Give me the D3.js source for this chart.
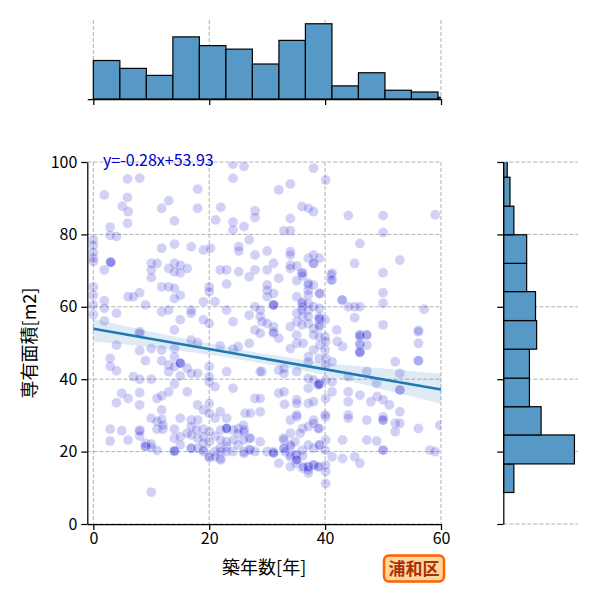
<!DOCTYPE html>
<html><head><meta charset="utf-8">
<script src="https://cdn.jsdelivr.net/npm/d3@7"></script>
<style>
body{margin:0;background:#fff}
text{font-family:"Noto Sans CJK JP","Noto Sans",sans-serif}
</style>
</head><body>
<svg id="c" width="600" height="600"></svg>
<script>
// ---------- data ----------
const xTicks = [0, 20, 40, 60];
const yTicks = [0, 20, 40, 60, 80, 100];
const xLabel = "築年数[年]";
const yLabel = "専有面積[m2]";
const wardLabel = "浦和区";
const regSlope = -0.28;
const regIntercept = 53.93;
const regText = "y=-0.28x+53.93";
// confidence band (offsets from the fitted line, in m2)
const ciX  = [0, 10, 20, 30, 40, 50, 60];
const ciUp = [2.7, 2.0, 1.5, 1.4, 1.8, 3.0, 4.4];
const ciLo = [3.5, 2.3, 1.6, 1.4, 1.6, 2.8, 3.9];
// marginal histograms
const topEdges  = [0, 4.58, 9.15, 13.73, 18.3, 22.88, 27.45, 32.03, 36.6, 41.18, 45.75, 50.33, 54.9, 59.48, 64.06];
const topCounts = [44, 35, 27, 71, 61, 57, 40, 67, 86, 15, 30, 10, 8, 2];
const rightEdges  = [8.7, 16.6, 24.6, 32.4, 40.3, 48.3, 56.2, 64.2, 72.0, 79.9, 87.8, 95.8, 103.7];
const rightCounts = [19, 128, 68, 47, 47, 60, 58, 42, 42, 19, 12, 7];
// scatter: building age [years], floor area [m2]
const ages = [
 5.9,8.0,1.9,5.9,5.0,6.0,5.9,2.9,2.9,4,
 0,0,0,0,0,0,0,0,0,
 3.0,3.0,3.0,1.9,
 11.8,13,18,18,14,
 21.1,22,24.1,26,24.1,24.1,24.1,26,27.9,27.9,
 11.8,14,16.9,19,20.2,25.1,25.1,26.9,27.9,
 10,11,13,14,15,15,16.2,14,10,10,
 21.9,23,25.1,26.9,27.9,23,
 20,20,
 11.8,13,14,15,14,6,8,6.9,
 1.9,1.9,
 19,16.9,16.9,15,11.8,13,9,4,1.9,8,
 21,23,24.1,26.9,27.9,27.9,
 20,19,14,
 // upper right
 38,34,32,40.1,36,37.1,38,34,44,50,59,32.9,34,50,46,
 30,34,34,31.1,37.1,38,38,38,39,34,34,35.1,36.1,36.1,45.1,52.9,
 30,32,35.1,41,41,50,
 30,30,30,31.1,35.1,36.1,36.1,37.1,37.1,38,37.1,37.1,39,37.1,38,
 31.1,31.1,31.1,
 43,44,45.1,46,45.1,50,50,50,57.1,56.1,
 28.8,28.8,29.1,30,31.1,31.1,34,35.1,35.1,36.1,37.1,37.1,38,39,39,39,40,42,46,47.2,
 36,37.1,39.1,36,36,39,39,39,36,39.1,38,42.9,46,46,46,46,43,41.2,41.2,40,
 // lower left
 8,10,11.8,14,16.9,18,8,4,2.9,2.9,4,9,11.8,13,13,14,14,15,15,15,15,16.2,16.9,18,20,21.9,23,24.1,25,26.9,
 6.9,8,10,14,16.2,20,21,24.1,27.9,
 8,8,4.9,4,6,11,11.8,11.8,13,10,11,11.8,
 18,19,20,21.9,15,16.9,18,
 2.9,4.9,8,8,11,12,14,14,15,16.2,16.9,16.9,18,19,19,20,21,23,24.1,25,26,26.9,
 2.9,6,9,9,9,10,11,14,15,16.9,16.9,18,19,19,20,21,21.9,21.9,23,24.1,25,26,26.9,27.9,
 10,
 8,12,17.8,14,14,10,
 20,29.1,20,21,23,22,23,23,25,26.2,27.1,25.9,26,25.9,27.1,24.2,23,22,20,19,22,23,26,27.1,22,20,21,
 // lower right
 28.8,31.1,35.1,38,39,40.1,42.1,46,47.2,46,46,47.2,56.1,56.1,
 32,34,35.1,36.2,37.1,37.1,39,40.1,40.1,41.2,44,47.2,48.9,52.1,52.9,52.9,52.9,56.1,56.1,
 28.8,32,32.9,32.9,35.1,37.1,38,39,39,39,40.1,41.2,44,44,46,47.9,49,50,51.1,52.1,52.9,52.9,56.1,59.8,
 28.8,28.8,32,32.9,35.1,35.1,37.1,38,40.1,41.2,44,44,47.2,50,50,50,
 34,35.1,36.1,37.1,38,39,40.1,28.8,31.1,32.9,34,
 32.9,32.9,34,34,35,35,36.1,36.1,37.1,38,39,39,40.1,35,36.1,37.1,37.1,38,38,39,40.1,40.1,40.1,37.1,32,30,31.1,31.1,34,
 41.2,43,45.1,46,43,47.2,48.9,50,50,58.1,59,52.1,
 32.8,34,34.8,35.7,38,38.8,33.1,34,35.1,35.1,36.3,37.1,38.8,33,35.1,37.1,38.8,
 40,40,40
];
const areas = [
 95.3,95.5,90.9,90.2,87.8,86.3,83.1,82,79.7,79.4,
 78.5,77,75,73.5,72.5,65.5,63.2,60.5,57.9,
 72.3,72.3,72.3,70.2,
 87.2,89.3,92.5,87.2,83.7,
 84,87.5,99.4,98.8,95.5,83.4,81.2,82.2,86.5,84.7,
 76.2,77.3,76.6,75.7,76.2,76.6,75.4,78.5,74.3,
 72,72,70.6,72,71.5,69.4,70.6,69.7,70.2,68.1,
 70.2,70.2,69.7,68.3,70.2,66.3,
 65.5,64.2,
 65.5,65.5,65.1,63.2,62.3,62.8,63.9,62.8,
 61.7,59.6,
 61.4,59.1,58.2,56.4,58.6,59.1,60.5,58.2,56.1,53.1,
 61.4,59.1,55.9,57.7,60,53.6,
 55.4,56.4,53.6,
 // upper right
 98.3,93.9,92.3,95,87.7,87.2,86.3,84.4,85.2,85.2,85.4,81,81,80.5,77.5,
 75.4,75.2,74.3,72,73.4,74.3,72,72,73.4,71.5,70.6,71.3,69.4,68.5,72,72.9,
 70.2,67.9,67.2,68.8,67.4,69.4,
 66,64.6,62.8,63.7,62.8,61.4,60,66,64.6,66,63.3,61,63.7,59.1,60,
 60.5,60.5,60.5,
 61.9,60,60,60,57,63.9,61,55,59.3,53.5,
 59.1,57.3,55.9,55.4,54.5,53.1,54.5,58.2,55.9,57.3,57.3,55.4,54,57.3,56.4,55,51.7,53.6,52.2,52.2,
 69.3,66.5,63.7,61,59.1,59.6,56.8,54.5,55,49.4,48.1,61.9,51.7,49.9,47.6,47.6,49,69.3,67.4,56.4,
 // lower left
 52.7,48.5,48.1,48.5,50.8,50.1,47.9,49.4,45.8,43.6,42.3,45.1,45.1,43.9,42.1,46.2,43.5,44.4,44.4,44.4,40.9,43,41.6,41.6,43.5,49.2,42.1,48.3,49,49.9,
 40.7,40,40,38.7,36.5,39.3,37.9,37.5,34.7,
 36.3,32.9,36.1,33.5,34.7,34.7,35.4,31.5,36.5,29.2,28.3,28.9,
 32.9,31.5,33.3,31,29.2,28.7,28.7,
 26.2,25.8,26,24.3,26.2,26.2,26.2,23.7,24.1,25.1,26.9,24.6,23.7,26.2,24.1,25.5,24.3,26.4,26,26.4,26,23.7,
 22.9,23.2,22.3,21.4,21.4,22.1,20.3,20,21.8,20.9,20.9,20.9,22.3,20,18.6,20,20.9,18.1,21.4,20,21.8,20,20.6,20,
 8.8,
 25.6,27.3,26,20.2,20.2,21.2,
 40.7,42.1,30.6,29.2,29.2,26,26.4,26.4,25.1,30.6,30.6,27.3,25.5,23.2,23.7,23.2,22.7,23.2,22.7,20.4,20,20,19.5,20.4,17.7,18.4,18.6,
 // lower right
 52.7,52.7,52.2,52.2,51.7,50.4,50.4,52.2,52.2,49.4,47.3,49.4,53.1,49.9,
 51.3,48.5,49.9,49.9,46.2,44.8,45.8,45.8,43.9,44.8,40.7,42.1,38.9,44.8,41.6,37,37,45.1,45.1,
 42.1,42.5,43,41.6,42.1,40.2,39.8,38.7,38.7,38.7,39.8,39.3,36.5,33.8,35.6,33.8,35.2,34.3,32.9,27.8,31,27.8,26.4,27.3,
 34.7,31,36.1,36.5,34.3,33.3,33.3,33.8,34.7,36.5,30.1,29.2,28.7,29.6,28.7,28.7,
 28.7,29.6,26.4,26.9,28.7,26.4,29.6,22.7,20,23.2,21.4,
 20.9,20.9,21.8,19.1,19.1,19.1,20.4,18.8,21.8,20.9,21.8,21.8,23.2,16.8,15.4,15.8,15.8,16.3,16.3,15.8,16.3,14.5,11.2,14.1,16.8,20,19.6,19.6,15.8,
 18.6,18.1,18.6,16.8,23.2,23.2,22.9,20.4,20.4,20.4,20,25.5,
 23.7,25.1,22.7,25.1,27.8,26.4,20,18.6,17.7,17.7,15.8,14.9,15.8,33.1,30.1,37.5,38.4,
 48.1,30.1,20.4
];

// ---------- drawing ----------
const svg = d3.select("#c");
const L = 87.3, R = 441, T = 162, B = 524;
const x = d3.scaleLinear().domain([-1.04, 60]).range([L, R]);
const y = d3.scaleLinear().domain([0, 100]).range([B, T]);

const gridCol = "#b0b0b0";
const dash = "4,2";
const barFill = "#5799c6";

const defs = svg.append("defs");
defs.append("clipPath").attr("id","clipMain").append("rect").attr("x",L).attr("y",T).attr("width",R-L).attr("height",B-T);
defs.append("clipPath").attr("id","clipTop").append("rect").attr("x",L).attr("y",10).attr("width",R-L).attr("height",90);
defs.append("clipPath").attr("id","clipRight").append("rect").attr("x",503).attr("y",T).attr("width",90).attr("height",B-T);

// ---- main grid
const gMain = svg.append("g");
gMain.selectAll(".gx").data(xTicks).enter().append("line")
  .attr("x1", d=>x(d)).attr("x2", d=>x(d)).attr("y1", T).attr("y2", B)
  .attr("stroke", gridCol).attr("stroke-width", 1).attr("stroke-dasharray", dash);
gMain.selectAll(".gy").data(yTicks).enter().append("line")
  .attr("x1", L).attr("x2", R).attr("y1", d=>y(d)).attr("y2", d=>y(d))
  .attr("stroke", gridCol).attr("stroke-width", 1).attr("stroke-dasharray", dash);

// ---- scatter
const pts = ages.map((a,i)=>({a, m: areas[i]}));
gMain.append("g").attr("clip-path","url(#clipMain)")
  .selectAll("circle").data(pts).enter().append("circle")
  .attr("cx", d=>x(d.a)).attr("cy", d=>y(d.m)).attr("r", 5)
  .attr("fill", "rgb(0,0,205)").attr("fill-opacity", 0.18)
  .attr("stroke", "#ffffff").attr("stroke-opacity", 0.35).attr("stroke-width", 0.8);

// ---- regression band + line
const band = ciX.map((cx,i)=>({cx, lo: regIntercept + regSlope*cx - ciLo[i], hi: regIntercept + regSlope*cx + ciUp[i]}));
gMain.append("path").datum(band)
  .attr("d", d3.area().x(d=>x(d.cx)).y0(d=>y(d.lo)).y1(d=>y(d.hi)).curve(d3.curveMonotoneX))
  .attr("fill", "#1f77b4").attr("fill-opacity", 0.15);
gMain.append("path").datum([0, 60])
  .attr("d", d3.line().x(d=>x(d)).y(d=>y(regIntercept + regSlope*d)))
  .attr("stroke", "#1f77b4").attr("stroke-width", 2.5).attr("fill", "none");

// ---- main axes
const ax = svg.append("g").attr("transform", `translate(0,${B})`)
  .call(d3.axisBottom(x).tickValues(xTicks).tickSize(6).tickSizeOuter(0).tickPadding(3));
const ay = svg.append("g").attr("transform", `translate(${L},0)`)
  .call(d3.axisLeft(y).tickValues(yTicks).tickSize(6).tickSizeOuter(0).tickPadding(4));
[ax, ay].forEach(g=>{
  g.select(".domain").attr("stroke","#000").attr("stroke-width",1.25);
  g.selectAll(".tick line").attr("stroke","#000").attr("stroke-width",1.25);
  g.selectAll(".tick text").attr("font-size",16).attr("fill","#000")
    .attr("font-family",'"Noto Sans CJK JP","Noto Sans",sans-serif');
});

// ---- top histogram
const maxTop = d3.max(topCounts);
const yTop = d3.scaleLinear().domain([0, maxTop*1.05]).range([99, 20]);
const gTop = svg.append("g");
gTop.selectAll("line.g").data(xTicks).enter().append("line")
  .attr("x1", d=>x(d)).attr("x2", d=>x(d)).attr("y1", 20).attr("y2", 99)
  .attr("stroke", gridCol).attr("stroke-width", 1).attr("stroke-dasharray", dash);
gTop.append("g").attr("clip-path","url(#clipTop)").selectAll("rect").data(topCounts).enter().append("rect")
  .attr("x", (d,i)=>x(topEdges[i])).attr("width", (d,i)=>x(topEdges[i+1])-x(topEdges[i]))
  .attr("y", d=>yTop(d)).attr("height", d=>99-yTop(d))
  .attr("fill", barFill).attr("stroke", "#000").attr("stroke-width", 1.2);
const axTop = gTop.append("g").attr("transform","translate(0,99)")
  .call(d3.axisBottom(x).tickValues(xTicks).tickFormat("").tickSize(6).tickSizeOuter(0));
axTop.select(".domain").attr("stroke","#000").attr("stroke-width",1.25);
axTop.selectAll(".tick line").attr("stroke","#000").attr("stroke-width",1.25);

// ---- right histogram
const RX0 = 503.3;
const maxR = d3.max(rightCounts);
const xR = d3.scaleLinear().domain([0, maxR*1.05]).range([RX0, 578]);
const gR = svg.append("g");
gR.selectAll("line.g").data(yTicks).enter().append("line")
  .attr("x1", RX0).attr("x2", 578).attr("y1", d=>y(d)).attr("y2", d=>y(d))
  .attr("stroke", gridCol).attr("stroke-width", 1).attr("stroke-dasharray", dash);
gR.append("g").attr("clip-path","url(#clipRight)").selectAll("rect").data(rightCounts).enter().append("rect")
  .attr("y", (d,i)=>y(rightEdges[i+1])).attr("height", (d,i)=>y(rightEdges[i])-y(rightEdges[i+1]))
  .attr("x", RX0).attr("width", d=>xR(d)-RX0)
  .attr("fill", barFill).attr("stroke", "#000").attr("stroke-width", 1.2);
const axR = gR.append("g").attr("transform",`translate(${RX0},0)`)
  .call(d3.axisLeft(y).tickValues(yTicks).tickFormat("").tickSize(6).tickSizeOuter(0));
axR.select(".domain").attr("stroke","#000").attr("stroke-width",1.25);
axR.selectAll(".tick line").attr("stroke","#000").attr("stroke-width",1.25);

// ---- labels
svg.append("text").attr("x", (L+R)/2).attr("y", 574).attr("text-anchor","middle")
  .attr("font-size", 18).attr("fill","#000").text(xLabel);
svg.append("text").attr("transform", `translate(36,${(T+B)/2}) rotate(-90)`).attr("text-anchor","middle")
  .attr("font-size", 18).attr("fill","#000").text(yLabel);
svg.append("text").attr("x", 103).attr("y", 166).attr("font-size", 16)
  .attr("fill","#0000cd").text(regText);

// ---- ward annotation
const wg = svg.append("g");
wg.append("rect").attr("x", 384).attr("y", 555.5).attr("width", 60).attr("height", 26).attr("rx", 5)
  .attr("fill", "#ffd699").attr("stroke", "#ff6000").attr("stroke-width", 2.5);
wg.append("text").attr("x", 414).attr("y", 574.5).attr("text-anchor","middle")
  .attr("font-size", 17).attr("font-weight","bold").attr("fill","#a8300a").text(wardLabel);
</script>
</body></html>
